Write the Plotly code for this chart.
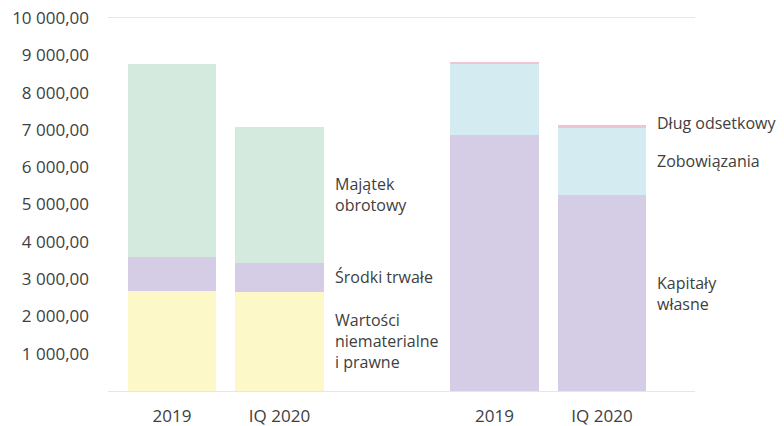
import plotly.graph_objects as go

# Data
periods = ["2019", "IQ 2020"]
assets_x = [0, 1]
liab_x = [3, 4]
wartosci = [2680, 2660]      # Wartości niematerialne i prawne
srodki = [920, 780]          # Środki trwałe
majatek = [5160, 3640]       # Majątek obrotowy
kapitaly = [6860, 5250]      # Kapitały własne
zobowiazania = [1910, 1820]  # Zobowiązania
dlug = [40, 50]              # Dług odsetkowy

y_ticks = [1000, 2000, 3000, 4000, 5000, 6000, 7000, 8000, 9000, 10000]
y_ticktext = ["1 000,00", "2 000,00", "3 000,00", "4 000,00", "5 000,00",
              "6 000,00", "7 000,00", "8 000,00", "9 000,00", "10 000,00"]

FONT = "Open Sans"
TXT = "#404040"
W = 0.82

fig = go.Figure()
series = [
    (assets_x, wartosci, "#fdf8c7", "Wartości niematerialne i prawne"),
    (assets_x, srodki, "#d5cce6", "Środki trwałe"),
    (assets_x, majatek, "#d4eadf", "Majątek obrotowy"),
    (liab_x, kapitaly, "#d5cce6", "Kapitały własne"),
    (liab_x, zobowiazania, "#d4ecf1", "Zobowiązania"),
    (liab_x, dlug, "#f2c4d2", "Dług odsetkowy"),
]
for xs, ys, col, name in series:
    fig.add_trace(go.Bar(x=xs, y=ys, marker=dict(color=col, line=dict(width=0)),
                         width=W, name=name, hoverinfo="skip"))

# Segment labels to the right of the IQ 2020 bars
def add_labels(xpos, stacks, texts, shifts):
    base = 0
    for vals, t, sh in zip(stacks, texts, shifts):
        mid = base + vals[1] / 2
        base += vals[1]
        fig.add_annotation(x=xpos + W / 2, y=mid, text=t, xref="x", yref="y",
                           xanchor="left", yanchor="middle", xshift=9, yshift=sh,
                           showarrow=False, align="left",
                           font=dict(family=FONT, size=16, color=TXT))

add_labels(assets_x[1], [wartosci, srodki, majatek],
           ["Wartości<br>niematerialne<br>i prawne", "Środki trwałe", "Majątek<br>obrotowy"],
           [0, 0, 0])
add_labels(liab_x[1], [kapitaly, zobowiazania, dlug],
           ["Kapitały<br>własne", "Zobowiązania", "Dług odsetkowy"],
           [0, 0, 3])

fig.update_layout(
    barmode="stack",
    width=784, height=426,
    margin=dict(l=108, r=89, t=18, b=35),
    paper_bgcolor="white", plot_bgcolor="white",
    showlegend=False,
    font=dict(family=FONT, color=TXT),
    xaxis=dict(range=[-0.595, 4.865], tickvals=assets_x + liab_x,
               ticktext=periods + periods, showgrid=False, zeroline=False,
               showline=True, mirror=True, linecolor="#e6e6e6", linewidth=1,
               ticks="", ticklabelstandoff=10, automargin=False,
               tickfont=dict(family=FONT, size=17, color=TXT)),
    yaxis=dict(range=[0, 10000], tickvals=y_ticks, ticktext=y_ticktext,
               showgrid=False, zeroline=False, showline=False, ticks="",
               ticklabelstandoff=18, automargin=False,
               tickfont=dict(family=FONT, size=17, color=TXT)),
)

fig.write_html("out.html")
